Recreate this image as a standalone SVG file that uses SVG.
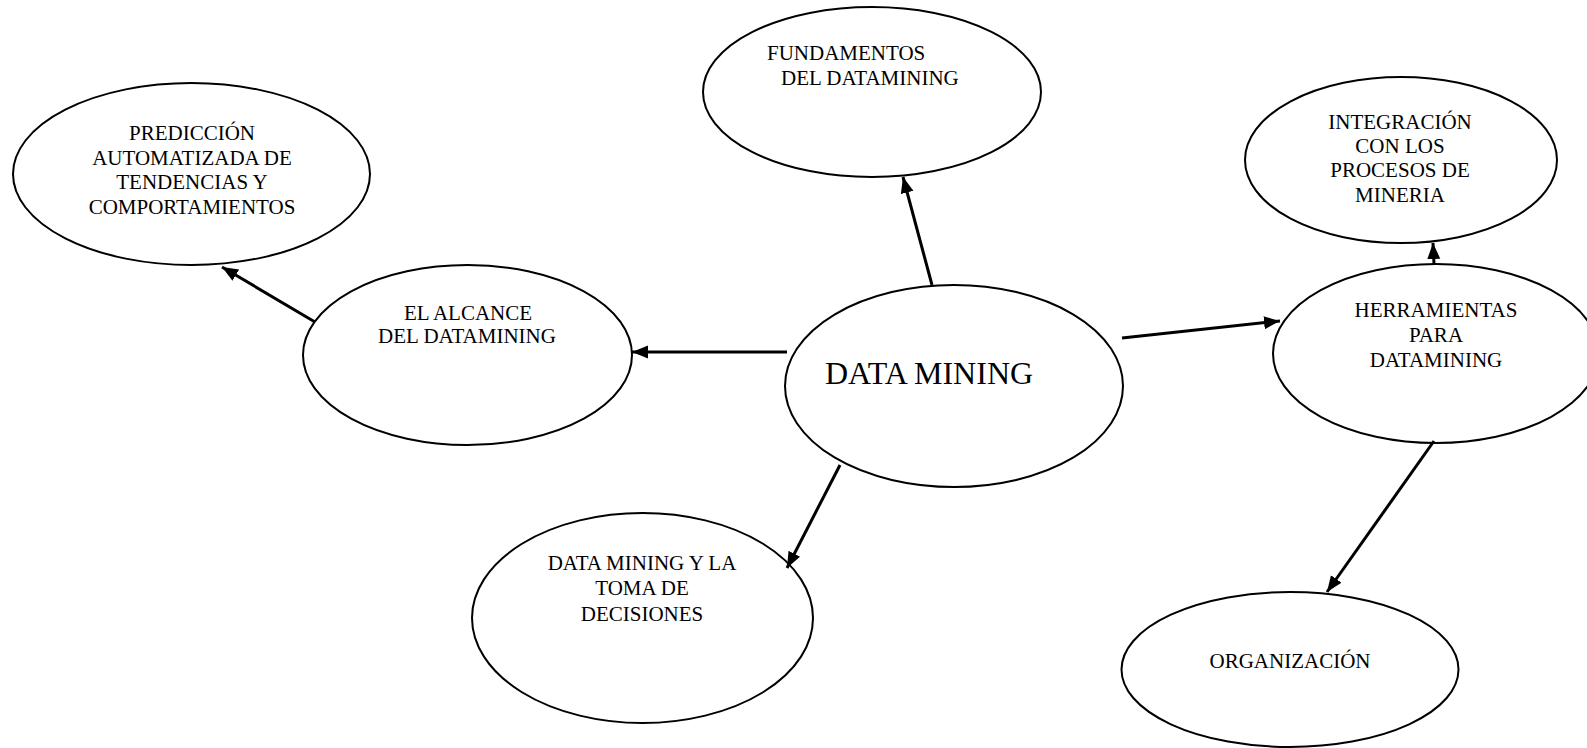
<svg xmlns="http://www.w3.org/2000/svg" width="1587" height="748" viewBox="0 0 1587 748">
<style>
.n ellipse{fill:#fff;stroke:#000;stroke-width:2}
.t{font-family:"Liberation Serif","Times New Roman",serif;font-size:21px;fill:#000;text-anchor:middle}
.tl{font-family:"Liberation Serif","Times New Roman",serif;font-size:21px;fill:#000}
.big{font-family:"Liberation Serif","Times New Roman",serif;font-size:32px;fill:#000}
#edges line{stroke:#000;stroke-width:3;marker-end:url(#ah)}
</style>
<defs>
<marker id="ah" markerUnits="userSpaceOnUse" markerWidth="18" markerHeight="14" refX="16" refY="6.5" orient="auto">
<path d="M0,0 L16,6.5 L0,13 z" fill="#000"/>
</marker>
</defs>
<rect width="1587" height="748" fill="#fff"/>
<g id="nodes">
<g id="prediccion" class="n">
<ellipse cx="191.5" cy="174" rx="178.5" ry="91"/>
<text class="t" x="192" y="140">PREDICCIÓN</text>
<text class="t" x="192" y="165">AUTOMATIZADA DE</text>
<text class="t" x="192" y="189">TENDENCIAS Y</text>
<text class="t" x="192" y="214">COMPORTAMIENTOS</text>
</g>
<g id="fundamentos" class="n">
<ellipse cx="872" cy="92" rx="169" ry="85"/>
<text class="tl" x="767" y="60">FUNDAMENTOS</text>
<text class="tl" x="781" y="85">DEL DATAMINING</text>
</g>
<g id="integracion" class="n">
<ellipse cx="1401" cy="160" rx="156" ry="83"/>
<text class="t" x="1400" y="129">INTEGRACIÓN</text>
<text class="t" x="1400" y="153">CON LOS</text>
<text class="t" x="1400" y="177">PROCESOS DE</text>
<text class="t" x="1400" y="202">MINERIA</text>
</g>
<g id="alcance" class="n">
<ellipse cx="467.5" cy="355" rx="164.5" ry="90"/>
<text class="t" x="468" y="320">EL ALCANCE</text>
<text class="t" x="467" y="343">DEL DATAMINING</text>
</g>
<g id="datamining" class="n">
<ellipse cx="954" cy="386" rx="169" ry="101"/>
<text class="big" x="825" y="384">DATA MINING</text>
</g>
<g id="herramientas" class="n">
<ellipse cx="1436" cy="353.5" rx="163" ry="89.5"/>
<text class="t" x="1436" y="317">HERRAMIENTAS</text>
<text class="t" x="1436" y="342">PARA</text>
<text class="t" x="1436" y="367">DATAMINING</text>
</g>
<g id="decisiones" class="n">
<ellipse cx="642.5" cy="618" rx="170.5" ry="105"/>
<text class="t" x="642" y="570">DATA MINING Y LA</text>
<text class="t" x="642" y="595">TOMA DE</text>
<text class="t" x="642" y="621">DECISIONES</text>
</g>
<g id="organizacion" class="n">
<ellipse cx="1290" cy="669.5" rx="168.5" ry="77.5"/>
<text class="t" x="1290" y="668">ORGANIZACIÓN</text>
</g>
</g>
<g id="edges">
<line x1="787" y1="352" x2="632" y2="352"/>
<line x1="315" y1="322" x2="222" y2="267"/>
<line x1="932" y1="285" x2="903" y2="177"/>
<line x1="1122" y1="338" x2="1280" y2="321"/>
<line x1="1434" y1="264" x2="1433" y2="243"/>
<line x1="840" y1="465" x2="787" y2="568"/>
<line x1="1434" y1="441" x2="1327" y2="592"/>
</g>
</svg>
